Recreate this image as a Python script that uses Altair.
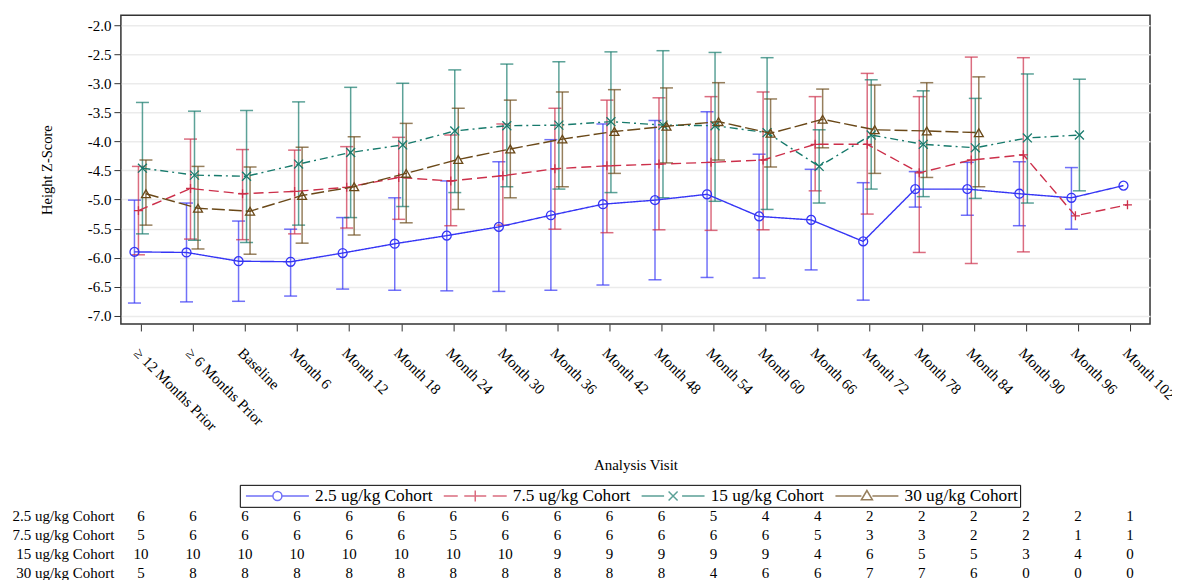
import altair as alt
import pandas as pd

visits = ["≥ 12 Months Prior", "≥ 6 Months Prior", "Baseline", "Month 6", "Month 12",
          "Month 18", "Month 24", "Month 30", "Month 36", "Month 42", "Month 48",
          "Month 54", "Month 60", "Month 66", "Month 72", "Month 78", "Month 84",
          "Month 90", "Month 96", "Month 102"]
cohorts = ["2.5 ug/kg Cohort", "7.5 ug/kg Cohort", "15 ug/kg Cohort", "30 ug/kg Cohort"]

mean_25 = [-5.90, -5.91, -6.06, -6.07, -5.92, -5.76, -5.62, -5.47, -5.27, -5.08, -5.01, -4.91, -5.29, -5.35, -5.72, -4.82, -4.82, -4.90, -4.97, -4.76]
lo_25 = [-6.78, -6.76, -6.75, -6.66, -6.54, -6.56, -6.57, -6.58, -6.56, -6.47, -6.38, -6.34, -6.35, -6.21, -6.73, -5.13, -5.27, -5.45, -5.51, None]
hi_25 = [-5.01, -5.06, -5.37, -5.51, -5.31, -4.97, -4.68, -4.35, -3.97, -3.70, -3.64, -3.49, -4.22, -4.48, -4.71, -4.52, -4.36, -4.35, -4.45, None]

mean_75 = [-5.19, -4.81, -4.90, -4.86, -4.79, -4.62, -4.68, -4.59, -4.47, -4.42, -4.39, -4.36, -4.32, -4.05, -4.05, -4.54, -4.32, -4.23, -5.28, -5.09]
lo_75 = [-5.95, -5.68, -5.69, -5.59, -5.49, -5.34, -5.45, -5.44, -5.51, -5.57, -5.52, -5.53, -5.52, -4.85, -5.25, -5.91, -6.10, -5.90, None, None]
hi_75 = [-4.43, -3.96, -4.14, -4.15, -4.09, -3.93, -3.89, -3.70, -3.43, -3.29, -3.25, -3.23, -3.15, -3.23, -2.83, -3.23, -2.55, -2.56, None, None]

mean_15 = [-4.46, -4.58, -4.60, -4.39, -4.19, -4.06, -3.82, -3.73, -3.72, -3.66, -3.72, -3.73, -3.85, -4.43, -3.89, -4.05, -4.11, -3.94, -3.89, None]
lo_15 = [-5.59, -5.70, -5.74, -5.44, -5.31, -5.12, -4.88, -4.78, -4.82, -4.88, -4.97, -5.03, -5.17, -5.06, -4.82, -4.95, -4.98, -5.06, -4.85, None]
hi_15 = [-3.33, -3.48, -3.47, -3.32, -3.07, -3.00, -2.77, -2.67, -2.63, -2.46, -2.44, -2.47, -2.56, -3.80, -2.94, -3.13, -3.26, -2.84, -2.93, None]

mean_30 = [-4.90, -5.15, -5.20, -4.93, -4.78, -4.55, -4.31, -4.13, -3.96, -3.83, -3.74, -3.66, -3.86, -3.62, -3.80, -3.82, -3.85, None, None, None]
lo_30 = [-5.44, -5.85, -5.94, -5.75, -5.61, -5.40, -5.17, -4.97, -4.78, -4.55, -4.37, -4.32, -4.44, -4.11, -4.55, -4.62, -4.78, None, None, None]
hi_30 = [-4.32, -4.43, -4.44, -4.10, -3.92, -3.69, -3.43, -3.29, -3.15, -3.11, -3.08, -2.99, -3.27, -3.10, -3.03, -2.99, -2.89, None, None, None]

n_25 = [6, 6, 6, 6, 6, 6, 6, 6, 6, 6, 6, 5, 4, 4, 2, 2, 2, 2, 2, 1]
n_75 = [5, 6, 6, 6, 6, 6, 5, 6, 6, 6, 6, 6, 6, 5, 3, 3, 2, 2, 1, 1]
n_15 = [10, 10, 10, 10, 10, 10, 10, 10, 9, 9, 9, 9, 9, 4, 6, 5, 5, 3, 4, 0]
n_30 = [5, 8, 8, 8, 8, 8, 8, 8, 8, 8, 8, 4, 6, 6, 7, 7, 6, 0, 0, 0]

y_ticks = [-7.0, -6.5, -6.0, -5.5, -5.0, -4.5, -4.0, -3.5, -3.0, -2.5, -2.0]

means = [mean_25, mean_75, mean_15, mean_30]
los = [lo_25, lo_75, lo_15, lo_30]
his = [hi_25, hi_75, hi_15, hi_30]
ns = [n_25, n_75, n_15, n_30]

rows = []
for ci, c in enumerate(cohorts):
    for vi, v in enumerate(visits):
        rows.append({"visit": v, "cohort": c, "mean": means[ci][vi],
                     "lo": los[ci][vi], "hi": his[ci][vi], "n": ns[ci][vi]})
df = pd.DataFrame(rows)

# styles
FONT = "Liberation Serif"
colors = ["#3535f5", "#cc2f4a", "#177a6c", "#6a4818"]
offsets = [-6.5, -2.5, 1.5, 5.0]
dashes = [[1, 0], [10, 5], [8, 4, 2, 4], [13, 4]]
marker_shapes = ["circle", "M-1,0L1,0M0,-1L0,1", "M-1,-1L1,1M-1,1L1,-1", "triangle-up"]
legend_paths = [
    "M-6.3,0L-0.9,0M0.9,0L6.3,0M-0.9,0A0.9,0.9,0,1,1,0.9,0A0.9,0.9,0,1,1,-0.9,0",
    "M-6.3,0L-3.5,0M-2.2,0L2.2,0M0,-1.1L0,1.1M3.5,0L6.3,0",
    "M-6.3,0L-1.8,0M-0.9,-0.9L0.9,0.9M-0.9,0.9L0.9,-0.9M1.8,0L6.3,0",
    "M-6.3,0L-1.1,0M1.1,0L6.3,0M-1.1,0.75L0,-1.1L1.1,0.75Z",
]

xscale = alt.Scale(type="point", domain=visits, padding=0.385)
yscale = alt.Scale(domain=[-7.14, -1.83], nice=False, zero=False)
xaxis = alt.Axis(labelAngle=45, labelAlign="left", labelBaseline="top", labelPadding=14,
                 tickSize=7, tickColor="#333333", domain=False, grid=False,
                 labelFont=FONT, labelFontSize=15, labelColor="black",
                 titleFont=FONT, titleFontSize=15, titleFontWeight="normal",
                 titleColor="black", titlePadding=24)
yaxis = alt.Axis(values=y_ticks, labelExpr="replace(format(datum.value, '.1f'), '−', '-')",
                 tickSize=7, tickColor="#333333", domain=False, grid=True,
                 gridColor="#ebebeb", gridWidth=1.5, labelPadding=3,
                 labelFont=FONT, labelFontSize=15, labelColor="black",
                 titleFont=FONT, titleFontSize=14.5, titleFontWeight="normal",
                 titleColor="black", titlePadding=33)

def xenc():
    return alt.X("visit:N", sort=visits, scale=xscale, axis=xaxis, title="Analysis Visit")

def yenc(field):
    return alt.Y(f"{field}:Q", scale=yscale, axis=yaxis, title="Height Z-Score")

layers = []
for ci, c in enumerate(cohorts):
    base = alt.Chart(df).transform_filter(alt.datum.cohort == c)
    bars = base.transform_filter("isValid(datum.lo) && isValid(datum.hi)")
    col = colors[ci]
    off = offsets[ci]
    layers.append(bars.mark_rule(color=col, opacity=0.7, strokeWidth=1.5, xOffset=off)
                  .encode(x=xenc(), y=yenc("lo"), y2="hi:Q"))
    layers.append(bars.mark_tick(color=col, opacity=0.7, size=13, thickness=1.5, xOffset=off)
                  .encode(x=xenc(), y=yenc("lo")))
    layers.append(bars.mark_tick(color=col, opacity=0.7, size=13, thickness=1.5, xOffset=off)
                  .encode(x=xenc(), y=yenc("hi")))
for ci, c in enumerate(cohorts):
    base = alt.Chart(df).transform_filter(alt.datum.cohort == c).transform_filter("isValid(datum.mean)")
    layers.append(base.mark_line(color=colors[ci], strokeWidth=1.4, strokeDash=dashes[ci],
                                 xOffset=offsets[ci])
                  .encode(x=xenc(), y=yenc("mean")))
    layers.append(base.mark_point(shape=marker_shapes[ci], color=colors[ci], size=80,
                                  filled=False, strokeWidth=1.3, opacity=1, xOffset=offsets[ci])
                  .encode(x=xenc(), y=yenc("mean")))

leg = dict(orient="none", legendX=119, legendY=470, direction="horizontal",
           labelFont=FONT, labelFontSize=17.3, labelColor="black",
           strokeColor="black", padding=2, columnPadding=7,
           symbolSize=100, symbolStrokeWidth=1.5, symbolOffset=27, labelOffset=29)
legend_layer = alt.Chart(pd.DataFrame({"cohort": cohorts})).mark_point(size=0, filled=False).encode(
    color=alt.Color("cohort:N", scale=alt.Scale(domain=cohorts, range=colors),
                    legend=alt.Legend(**leg), title=None),
    shape=alt.Shape("cohort:N", scale=alt.Scale(domain=cohorts, range=legend_paths),
                    legend=alt.Legend(**leg), title=None),
)
layers.append(legend_layer)

top = alt.layer(*layers).properties(
    width=1030, height=309,
    view=alt.ViewBackground(stroke="#333333", strokeWidth=1.5),
)

table = alt.Chart(df).mark_text(font=FONT, fontSize=15, color="black").encode(
    x=alt.X("visit:N", sort=visits, scale=xscale, axis=None),
    y=alt.Y("cohort:N", sort=cohorts, scale=alt.Scale(type="point", domain=cohorts, padding=0.25),
            axis=alt.Axis(title=None, domain=False, ticks=False, labelPadding=7,
                          labelFont=FONT, labelFontSize=15, labelColor="black")),
    text="n:Q",
).properties(width=1030, height=66.5,
             view=alt.ViewBackground(stroke="transparent", strokeWidth=0))

chart = alt.vconcat(top, table, spacing=34).properties(
    padding={"left": 3, "top": 6, "right": -6, "bottom": -1}
).configure_view(stroke="transparent").configure(font=FONT)

chart.save("out.html", embed_options={"renderer": "svg", "actions": False})
